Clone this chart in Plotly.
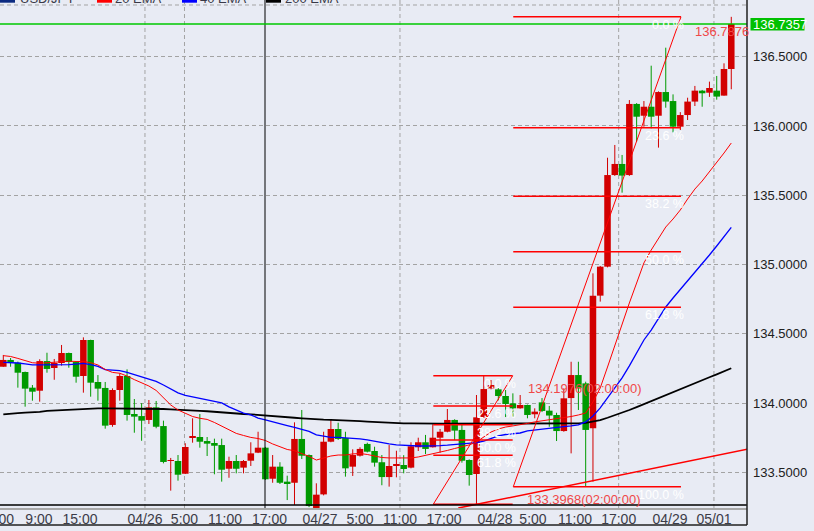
import plotly.graph_objects as go

# ---------------- data ----------------
opens = [134.263, 134.312, 134.292, 134.225, 134.112, 134.090, 134.304, 134.254, 134.290, 134.362,
         134.297, 134.196, 134.456, 134.153, 134.110, 133.843, 134.095, 134.196, 133.922, 133.907,
         133.879, 133.970, 133.835, 133.583, 133.583, 133.491, 133.756, 133.756, 133.727, 133.713,
         133.698, 133.527, 133.583, 133.535, 133.585, 133.643, 133.679, 133.455, 133.542, 133.434,
         133.426, 133.742, 133.626, 133.242, 133.342, 133.722, 133.814, 133.749, 133.542, 133.621,
         133.706, 133.655, 133.574, 133.467, 133.554, 133.554, 133.535, 133.682, 133.718, 133.682,
         133.751, 133.794, 133.879, 133.807, 133.590, 133.489, 133.898, 134.107, 134.100, 134.052,
         133.999, 133.963, 133.987, 133.920, 134.006, 133.946, 133.915, 133.799, 134.037, 134.203,
         134.143, 133.819, 134.776, 134.985, 135.646, 135.726, 135.646, 136.159, 136.074, 136.139,
         136.074, 136.245, 136.180, 135.995, 136.079, 136.176, 136.255, 136.240, 136.255, 136.219,
         136.411]
highs = [134.348, 134.326, 134.300, 134.228, 134.131, 134.317, 134.364, 134.319, 134.420, 134.365,
         134.304, 134.475, 134.458, 134.203, 134.153, 134.107, 134.216, 134.244, 134.030, 134.000,
         134.023, 134.016, 133.874, 133.605, 133.626, 133.711, 133.891, 133.922, 133.756, 133.744,
         133.744, 133.614, 133.626, 133.590, 133.718, 133.794, 133.685, 133.626, 133.574, 133.477,
         133.862, 133.951, 133.630, 133.422, 133.794, 133.884, 133.859, 133.794, 133.667, 133.682,
         133.715, 133.686, 133.626, 133.698, 133.657, 133.625, 133.718, 133.751, 133.771, 133.848,
         133.814, 133.958, 133.884, 133.848, 133.595, 134.059, 134.1976, 134.167, 134.109, 134.095,
         134.071, 134.059, 133.990, 133.963, 134.037, 133.980, 133.931, 134.107, 134.299, 134.299,
         134.155, 134.937, 134.990, 135.771, 135.863, 135.791, 136.187, 136.165, 136.180, 136.435,
         136.250, 136.565, 136.228, 136.100, 136.204, 136.289, 136.260, 136.320, 136.361, 136.452,
         136.7876]
lows = [134.263, 134.263, 134.112, 133.975, 134.018, 134.011, 134.220, 134.169, 134.271, 134.256,
        134.148, 134.076, 134.047, 134.018, 133.816, 133.830, 134.018, 133.874, 133.787, 133.729,
        133.850, 133.819, 133.566, 133.369, 133.441, 133.489, 133.715, 133.679, 133.619, 133.487,
        133.434, 133.462, 133.494, 133.494, 133.547, 133.640, 133.446, 133.426, 133.417, 133.301,
        133.266, 133.597, 133.250, 133.240, 133.335, 133.718, 133.735, 133.470, 133.475, 133.615,
        133.645, 133.542, 133.408, 133.398, 133.465, 133.494, 133.530, 133.655, 133.633, 133.680,
        133.643, 133.790, 133.734, 133.571, 133.405, 133.266, 133.895, 134.100, 134.020, 133.900,
        133.903, 133.960, 133.891, 133.891, 133.936, 133.830, 133.727, 133.794, 133.638, 133.951,
        133.3968, 133.434, 134.733, 134.980, 135.640, 135.519, 135.640, 135.887, 135.995, 135.983,
        135.844, 136.132, 135.954, 135.971, 136.043, 136.144, 136.139, 136.210, 136.190, 136.219,
        136.265]
closes = [134.312, 134.292, 134.220, 134.105, 134.083, 134.304, 134.247, 134.290, 134.362, 134.297,
          134.191, 134.456, 134.148, 134.105, 133.838, 134.095, 134.196, 133.915, 133.903, 133.874,
          133.970, 133.830, 133.576, 133.590, 133.484, 133.684, 133.760, 133.722, 133.708, 133.693,
          133.520, 133.583, 133.527, 133.583, 133.638, 133.679, 133.451, 133.542, 133.426, 133.422,
          133.742, 133.621, 133.258, 133.340, 133.722, 133.814, 133.742, 133.530, 133.626, 133.670,
          133.650, 133.571, 133.467, 133.547, 133.561, 133.525, 133.689, 133.718, 133.670, 133.751,
          133.794, 133.879, 133.802, 133.585, 133.482, 133.898, 134.102, 134.131, 134.052, 133.994,
          133.963, 133.987, 133.915, 133.939, 133.944, 133.911, 133.799, 134.035, 134.203, 134.107,
          133.807, 134.776, 134.985, 135.646, 135.726, 135.642, 136.159, 136.067, 136.139, 136.067,
          136.245, 136.176, 135.995, 136.079, 136.176, 136.255, 136.236, 136.274, 136.212, 136.411,
          136.7357]

ema20 = [134.343, 134.337, 134.323, 134.306, 134.292, 134.288, 134.292, 134.296, 134.302, 134.303,
         134.301, 134.301, 134.292, 134.276, 134.243, 134.222, 134.216, 134.196, 134.170, 134.146,
         134.124, 134.092, 134.038, 133.987, 133.951, 133.926, 133.904, 133.891, 133.883, 133.861,
         133.836, 133.807, 133.782, 133.767, 133.753, 133.745, 133.731, 133.706, 133.684, 133.666,
         133.657, 133.637, 133.616, 133.590, 133.603, 133.619, 133.626, 133.626, 133.634, 133.637,
         133.630, 133.619, 133.608, 133.605, 133.605, 133.605, 133.605, 133.612, 133.623, 133.634,
         133.644, 133.659, 133.673, 133.684, 133.699, 133.720, 133.756, 133.792, 133.814, 133.828,
         133.836, 133.843, 133.854, 133.865, 133.872, 133.879, 133.886, 133.893, 133.904, 133.915,
         133.929, 134.009, 134.110, 134.261, 134.420, 134.564, 134.723, 134.867, 135.012, 135.105,
         135.192, 135.271, 135.329, 135.394, 135.473, 135.545, 135.603, 135.668, 135.740, 135.805,
         135.877]
ema40 = [134.295, 134.294, 134.290, 134.283, 134.276, 134.276, 134.276, 134.276, 134.276, 134.278,
         134.282, 134.287, 134.279, 134.265, 134.242, 134.236, 134.235, 134.223, 134.207, 134.193,
         134.177, 134.157, 134.131, 134.103, 134.074, 134.056, 134.045, 134.034, 134.027, 134.016,
         134.002, 133.973, 133.951, 133.929, 133.915, 133.893, 133.879, 133.867, 133.850, 133.838,
         133.825, 133.810, 133.796, 133.771, 133.761, 133.754, 133.753, 133.751, 133.749, 133.743,
         133.735, 133.724, 133.713, 133.706, 133.699, 133.695, 133.691, 133.691, 133.691, 133.691,
         133.694, 133.697, 133.701, 133.706, 133.711, 133.715, 133.727, 133.745, 133.764, 133.774,
         133.782, 133.785, 133.800, 133.807, 133.812, 133.818, 133.826, 133.831, 133.836, 133.843,
         133.865, 133.908, 133.966, 134.038, 134.110, 134.182, 134.269, 134.362, 134.456, 134.528,
         134.608, 134.694, 134.759, 134.820, 134.882, 134.943, 135.004, 135.069, 135.134, 135.199,
         135.268]
ema200 = [133.919, 133.926, 133.929, 133.932, 133.934, 133.938, 133.944, 133.947, 133.951, 133.953,
          133.957, 133.960, 133.963, 133.963, 133.963, 133.963, 133.962, 133.962, 133.962, 133.962,
          133.960, 133.960, 133.958, 133.955, 133.951, 133.947, 133.944, 133.944, 133.942, 133.937,
          133.932, 133.928, 133.924, 133.922, 133.920, 133.915, 133.913, 133.908, 133.903, 133.900,
          133.895, 133.891, 133.886, 133.884, 133.881, 133.879, 133.878, 133.875, 133.873, 133.870,
          133.867, 133.864, 133.862, 133.859, 133.857, 133.855, 133.855, 133.853, 133.852, 133.852,
          133.852, 133.852, 133.852, 133.852, 133.852, 133.852, 133.852, 133.852, 133.852, 133.852,
          133.852, 133.852, 133.852, 133.852, 133.852, 133.852, 133.852, 133.852, 133.853, 133.855,
          133.858, 133.867, 133.878, 133.895, 133.913, 133.930, 133.951, 133.972, 133.994, 134.015,
          134.037, 134.058, 134.079, 134.101, 134.122, 134.144, 134.165, 134.187, 134.208, 134.230,
          134.252]

tick_pos = [-0.38, 4.90, 10.54, 19.46, 24.89, 30.45, 36.57, 43.50, 49.0, 54.49,
            60.54, 67.54, 72.76, 78.53, 84.53, 91.58, 97.62]
tick_text = ["3:00", "9:00", "15:00", "04/26", "5:00", "11:00", "17:00", "04/27", "5:00", "11:00",
             "17:00", "04/28", "5:00", "11:00", "17:00", "04/29", "05/01"]
grid_ticks = [3, 4, 9, 14, 16]
price_ticks = [133.5, 134.0, 134.5, 135.0, 135.5, 136.0, 136.5]
last_price = 136.7357
vline_idx = 35.95
fib_levels = [0.0, 0.236, 0.382, 0.5, 0.618, 1.0]
big_fib = dict(x0=70.05, x1=93.09, low=133.3968, high=136.7876)
small_fib = dict(x0=59.07, x1=69.97, low=133.271, high=134.1976)
trend_x = [62.5, 102.5]
trend_y = [133.2435, 133.672]
legend_names = ["USD/JPY", "20 EMA", "40 EMA", "200 EMA"]
legend_colors = ["#0b2a80", "#ff0000", "#0000ff", "#000000"]

# ---------------- styling ----------------
BG = "#e8ebf4"
UP = "#d20000"
DOWN = "#009a00"
GRID = "#a3a3a3"
FONT = "Liberation Sans, Arial, sans-serif"

n = len(opens)
idx = list(range(n))
up = [c >= o for o, c in zip(opens, closes)]
body_base = [min(o, c) for o, c in zip(opens, closes)]
body_h = [max(abs(c - o), 0.007) for o, c in zip(opens, closes)]
body_col = [UP if u else DOWN for u in up]

fig = go.Figure()
for flag, col in ((True, UP), (False, DOWN)):
    xs, ys = [], []
    for i in idx:
        if up[i] == flag:
            xs += [i, i, None]
            ys += [lows[i], highs[i], None]
    fig.add_trace(go.Scatter(x=xs, y=ys, mode="lines", line=dict(color=col, width=1),
                             hoverinfo="skip", showlegend=False))
fig.add_trace(go.Bar(x=idx, y=body_h, base=body_base, width=0.9,
                     marker=dict(color=body_col, line=dict(width=0)), showlegend=False))
fig.add_trace(go.Scatter(x=idx, y=ema200, mode="lines", line=dict(color="#000000", width=1.8), showlegend=False))
fig.add_trace(go.Scatter(x=idx, y=ema40, mode="lines", line=dict(color="#0000ff", width=1.3), showlegend=False))
fig.add_trace(go.Scatter(x=idx, y=ema20, mode="lines", line=dict(color="#ff0000", width=1), showlegend=False))

shapes = []
dash = "4px,3px"
for k in grid_ticks:
    shapes.append(dict(type="line", xref="x", yref="paper", x0=tick_pos[k], x1=tick_pos[k], y0=0, y1=1,
                       line=dict(color=GRID, width=1, dash=dash), layer="below"))
shapes.append(dict(type="line", xref="paper", x0=0, x1=1, yref="paper", ysizemode="pixel", yanchor=1,
                   y0=-5, y1=-5, line=dict(color=GRID, width=1, dash=dash), layer="below"))
# vertical marker line
shapes.append(dict(type="line", xref="x", x0=vline_idx, x1=vline_idx, yref="paper", y0=0, y1=1,
                   line=dict(color="#000000", width=1)))
# last price line
shapes.append(dict(type="line", xref="paper", x0=0, x1=1, yref="y", y0=last_price, y1=last_price,
                   line=dict(color="#00c800", width=1.5)))
# fibonacci drawings
for fb in (big_fib, small_fib):
    rng = fb["high"] - fb["low"]
    for lv in fib_levels:
        p = fb["high"] - lv * rng
        shapes.append(dict(type="line", xref="x", yref="y", x0=fb["x0"], x1=fb["x1"], y0=p, y1=p,
                           line=dict(color="#ff0000", width=1.5)))
    shapes.append(dict(type="line", xref="x", yref="y", x0=fb["x0"], x1=fb["x1"], y0=fb["low"], y1=fb["high"],
                       line=dict(color="#ff0000", width=1)))
# trend line
shapes.append(dict(type="line", xref="x", yref="y", x0=trend_x[0], x1=trend_x[1], y0=trend_y[0], y1=trend_y[1],
                   line=dict(color="#ff0000", width=1.5)))
# pane bottom line, frame lines
shapes.append(dict(type="line", xref="paper", x0=0, x1=1, yref="paper", ysizemode="pixel", yanchor=0,
                   y0=3, y1=3, line=dict(color="#000000", width=1.5)))
shapes.append(dict(type="line", xref="paper", x0=1, x1=1, yref="paper", ysizemode="pixel", yanchor=0,
                   y0=-17, y1=520, line=dict(color="#202020", width=1.5)))
shapes.append(dict(type="line", xref="paper", x0=0, x1=1, yref="paper", ysizemode="pixel", yanchor=0,
                   y0=-17, y1=-17, line=dict(color="#202020", width=1.5)))
# current price box
shapes.append(dict(type="rect", xref="paper", xsizemode="pixel", xanchor=1, x0=3.5, x1=57.5,
                   yref="y", ysizemode="pixel", yanchor=last_price, y0=-6.5, y1=6,
                   fillcolor="#00c000", line=dict(width=0)))
# legend swatches (top, mostly cut off)
legend_x = [0, 97, 182, 266]
legend_tx = [20, 115, 200, 285]
for lx, col in zip(legend_x, legend_colors):
    shapes.append(dict(type="rect", xref="paper", xsizemode="pixel", xanchor=0, x0=lx, x1=lx + 15,
                       yref="paper", ysizemode="pixel", yanchor=1, y0=-2.7, y1=12,
                       fillcolor=col, line=dict(width=0)))

ann = []
ann.append(dict(text=f"{last_price:.4f}", xref="paper", x=1, xanchor="left", xshift=4,
                yref="y", y=last_price, yanchor="middle", showarrow=False,
                font=dict(family=FONT, size=13, color="#ffffff")))
for fb, skip_last in ((big_fib, False), (small_fib, True)):
    rng = fb["high"] - fb["low"]
    for lv in fib_levels:
        if skip_last and lv == 1.0:
            continue
        p = fb["high"] - lv * rng
        ann.append(dict(text=f"{lv * 100:.1f} %", xref="x", x=fb["x1"], xanchor="right", xshift=5,
                        yref="y", y=p, yanchor="top", yshift=1, showarrow=False,
                        font=dict(family=FONT, size=12.5, color="#ffffff")))
LBL = "#f04848"
ann.append(dict(text=f"{small_fib['high']:.4f}(02:00:00)", xref="x", x=small_fib["x1"], xanchor="left", xshift=13,
                yref="y", y=small_fib["high"], yanchor="top", yshift=-3, showarrow=False,
                font=dict(family=FONT, size=13, color=LBL)))
ann.append(dict(text=f"{big_fib['low']:.4f}(02:00:00)", xref="x", x=big_fib["x0"], xanchor="left", xshift=12,
                yref="y", y=big_fib["low"], yanchor="top", yshift=-3, showarrow=False,
                font=dict(family=FONT, size=13, color=LBL)))
ann.append(dict(text=f"{big_fib['high']:.4f}", xref="x", x=big_fib["x1"], xanchor="left", xshift=12,
                yref="y", y=big_fib["high"], yanchor="top", yshift=-5, showarrow=False,
                font=dict(family=FONT, size=13, color=LBL)))
for name, tx in zip(legend_names, legend_tx):
    ann.append(dict(text=name, xref="paper", x=0, xanchor="left", xshift=tx - 2,
                    yref="paper", y=1, yanchor="bottom", yshift=-8, showarrow=False,
                    font=dict(family=FONT, size=13, color="#3a3a48")))

fig.update_layout(
    template="none",
    width=814, height=531,
    margin=dict(l=0, r=67, t=0, b=23, pad=0),
    paper_bgcolor=BG, plot_bgcolor=BG,
    font=dict(family=FONT),
    showlegend=False,
    hovermode=False,
    shapes=shapes,
    annotations=ann,
    xaxis=dict(range=[-0.453, 102.16], tickmode="array", tickvals=tick_pos, ticktext=tick_text,
               showgrid=False, zeroline=False, showline=True, linecolor="#a8a8a8", linewidth=1.5,
               ticks="", tickfont=dict(family=FONT, size=14, color="#3c3c48"), automargin=False,
               ticklabeloverflow="allow", ticklabelstandoff=-3, fixedrange=True),
    yaxis=dict(range=[133.2438, 136.909], side="right", tickmode="array", tickvals=price_ticks,
               ticktext=[f"{v:.4f}" for v in price_ticks], showgrid=True, gridcolor=GRID,
               griddash=dash, gridwidth=1, zeroline=False, showline=False, ticks="",
               tickfont=dict(family=FONT, size=13, color="#202020"), ticklabelstandoff=5,
               ticklabeloverflow="allow", automargin=False, fixedrange=True),
)

fig.write_html("out.html", config={"displayModeBar": False},
               post_script="document.body.style.margin='0px';")
